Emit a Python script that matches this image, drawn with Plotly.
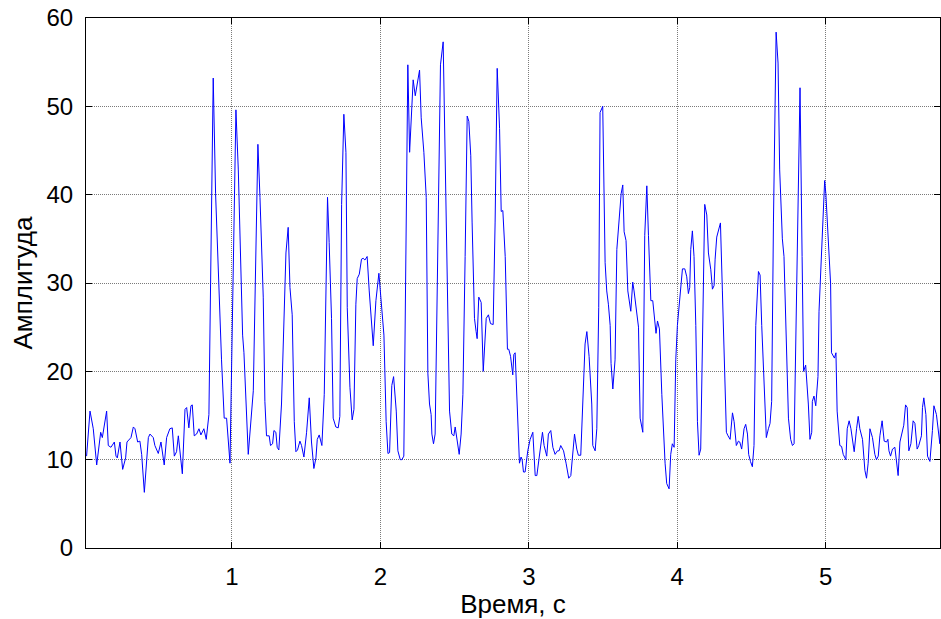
import plotly.graph_objects as go

# Time (s)
time_s = [
    0.021, 0.044, 0.066, 0.089, 0.116, 0.127, 0.156, 0.167, 0.185, 0.208, 0.219, 0.228, 0.246, 0.264,
    0.284, 0.293, 0.320, 0.336, 0.347, 0.365, 0.380, 0.392, 0.410, 0.437, 0.448, 0.470, 0.481, 0.504,
    0.522, 0.544, 0.560, 0.582, 0.598, 0.612, 0.627, 0.639, 0.666, 0.684, 0.695, 0.710, 0.724, 0.733,
    0.746, 0.762, 0.778, 0.791, 0.811, 0.827, 0.845, 0.874, 0.890, 0.912, 0.930, 0.948, 0.964, 0.987,
    1.027, 1.043, 1.072, 1.081, 1.110, 1.144, 1.175, 1.189, 1.211, 1.222, 1.233, 1.251, 1.260, 1.274,
    1.283, 1.296, 1.305, 1.316, 1.334, 1.364, 1.379, 1.391, 1.406, 1.420, 1.431, 1.442, 1.458, 1.469,
    1.485, 1.503, 1.521, 1.536, 1.552, 1.566, 1.575, 1.588, 1.606, 1.622, 1.644, 1.655, 1.671, 1.682,
    1.700, 1.716, 1.727, 1.739, 1.754, 1.768, 1.777, 1.795, 1.810, 1.822, 1.835, 1.844, 1.858, 1.873,
    1.884, 1.896, 1.911, 1.925, 1.952, 1.970, 1.990,
    2.024, 2.039, 2.051, 2.062, 2.077, 2.089, 2.107, 2.118, 2.134, 2.145, 2.158, 2.170, 2.185, 2.197,
    2.221, 2.235, 2.253, 2.264, 2.275, 2.293, 2.309, 2.320, 2.331, 2.342, 2.347, 2.358, 2.369, 2.387,
    2.405, 2.423, 2.439, 2.455, 2.466, 2.481, 2.495, 2.504, 2.515, 2.531, 2.544, 2.556, 2.571, 2.585,
    2.596, 2.609, 2.618, 2.634, 2.645, 2.652, 2.663, 2.679, 2.693, 2.713, 2.728, 2.742, 2.760, 2.773,
    2.787, 2.803, 2.814, 2.825, 2.841, 2.856, 2.865, 2.877, 2.892, 2.899, 2.908, 2.921, 2.937, 2.948,
    2.955, 2.964, 2.975, 2.993,
    3.009, 3.027, 3.043, 3.054, 3.072, 3.081, 3.092, 3.103, 3.121, 3.132, 3.148, 3.162, 3.177, 3.193,
    3.204, 3.215, 3.234, 3.251, 3.269, 3.283, 3.296, 3.308, 3.323, 3.334, 3.350, 3.364, 3.379, 3.391,
    3.406, 3.424, 3.431, 3.447, 3.458, 3.471, 3.480, 3.498, 3.514, 3.525, 3.536, 3.548, 3.554, 3.566,
    3.581, 3.593, 3.611, 3.622, 3.633, 3.642, 3.655, 3.667, 3.687, 3.700, 3.709, 3.727, 3.739, 3.750,
    3.768, 3.781, 3.795, 3.806, 3.822, 3.835, 3.846, 3.857, 3.867, 3.880, 3.896, 3.907, 3.918, 3.929,
    3.945, 3.956, 3.967, 3.979, 3.990,
    4.001, 4.017, 4.024, 4.035, 4.051, 4.064, 4.075, 4.084, 4.091, 4.102, 4.113, 4.125, 4.136, 4.147,
    4.158, 4.170, 4.185, 4.199, 4.210, 4.226, 4.237, 4.248, 4.255, 4.266, 4.277, 4.291, 4.304, 4.315,
    4.331, 4.342, 4.356, 4.372, 4.383, 4.398, 4.412, 4.421, 4.434, 4.450, 4.461, 4.473, 4.481, 4.493,
    4.506, 4.517, 4.529, 4.547, 4.558, 4.569, 4.585, 4.600, 4.614, 4.625, 4.636, 4.648, 4.666, 4.679,
    4.690, 4.708, 4.719, 4.731, 4.742, 4.749, 4.764, 4.776, 4.787, 4.798, 4.814, 4.827, 4.841, 4.851,
    4.865, 4.883, 4.894, 4.906, 4.910, 4.921, 4.933, 4.948, 4.955, 4.971, 4.983, 4.993,
    5.001, 5.017, 5.033, 5.039, 5.051, 5.059, 5.069, 5.077, 5.095, 5.107, 5.118, 5.136, 5.145, 5.158,
    5.170, 5.185, 5.192, 5.208, 5.219, 5.230, 5.248, 5.264, 5.275, 5.286, 5.298, 5.315, 5.331, 5.342,
    5.354, 5.365, 5.380, 5.394, 5.410, 5.419, 5.426, 5.437, 5.450, 5.466, 5.477, 5.488, 5.500, 5.517,
    5.526, 5.538, 5.549, 5.560, 5.574, 5.589, 5.601, 5.616, 5.627, 5.645, 5.652, 5.661, 5.675, 5.686,
    5.702, 5.719, 5.729, 5.746, 5.760, 5.769, 5.775,
]

# Amplitude
amplitude = [
    10.4, 15.5, 13.5, 9.4, 13.1, 12.5, 15.5, 11.6, 11.4, 12.0, 10.4, 10.2, 12.0, 8.9,
    10.2, 12.0, 12.5, 13.7, 13.5, 12.0, 12.1, 10.6, 6.3, 12.5, 12.9, 12.5, 11.6, 10.7,
    12.0, 9.4, 12.5, 13.5, 13.6, 10.4, 10.9, 12.7, 8.4, 15.7, 15.9, 13.6, 16.1, 16.2,
    12.7, 12.9, 13.5, 12.8, 13.5, 12.3, 15.1, 53.2, 40.1, 29.1, 21.3, 14.7, 14.7, 9.6,
    49.6, 42.8, 24.1, 22.1, 10.6, 17.8, 45.7, 39.7, 28.4, 16.6, 12.7, 12.7, 11.6, 11.8,
    13.3, 13.1, 11.4, 11.1, 16.3, 33.4, 36.3, 29.5, 26.4, 14.3, 10.9, 11.1, 12.1, 11.6,
    10.3, 13.1, 17.0, 12.0, 9.0, 10.2, 12.3, 12.8, 11.6, 17.4, 39.7, 34.6, 26.0, 14.7,
    13.7, 13.6, 14.9, 38.9, 49.1, 44.8, 27.2, 18.2, 14.5, 15.7, 27.6, 30.5, 31.0, 32.7,
    32.8, 32.6, 33.0, 29.1, 22.9, 28.0, 31.1,
    24.1, 14.3, 10.7, 10.8, 18.4, 19.4, 15.5, 11.0, 10.0, 10.0, 10.4, 33.0, 54.7, 44.8,
    53.0, 51.2, 53.0, 54.1, 48.7, 44.8, 39.7, 19.8, 16.3, 15.1, 12.9, 11.8, 12.9, 35.4,
    54.7, 57.3, 42.8, 29.1, 15.5, 12.9, 12.7, 13.7, 12.3, 10.6, 12.9, 17.4, 33.0, 48.9,
    48.3, 44.4, 36.9, 26.0, 24.5, 23.7, 28.4, 27.8, 20.0, 26.0, 26.4, 25.4, 25.3, 36.9,
    54.3, 47.5, 38.1, 38.2, 33.0, 22.5, 22.5, 21.7, 19.6, 21.9, 22.1, 15.5, 9.6, 10.3,
    10.0, 8.6, 8.6, 11.0,
    12.3, 13.1, 8.2, 8.2, 10.8, 11.6, 13.1, 11.6, 10.4, 12.9, 13.3, 11.4, 10.6, 11.0,
    11.0, 11.6, 11.0, 9.6, 7.9, 8.2, 10.6, 12.9, 11.2, 10.5, 10.5, 16.6, 23.1, 24.5,
    21.7, 16.3, 11.6, 11.0, 13.5, 27.2, 49.3, 50.0, 32.3, 29.1, 27.6, 25.2, 20.9, 18.0,
    21.3, 33.8, 37.7, 40.1, 41.1, 35.8, 34.8, 29.1, 26.8, 30.1, 29.1, 26.4, 25.0, 14.7,
    13.1, 35.4, 41.0, 35.4, 28.0, 28.0, 26.0, 24.3, 25.7, 24.8, 17.4, 12.5, 9.6, 7.3,
    6.7, 10.6, 11.8, 11.4, 21.3,
    25.2, 28.0, 30.0, 31.6, 31.6, 30.7, 28.8, 29.5, 33.8, 35.9, 33.0, 25.2, 14.3, 10.5,
    11.2, 25.2, 38.9, 37.7, 33.4, 31.5, 29.3, 29.7, 32.7, 35.2, 35.9, 36.8, 29.1, 21.3,
    13.1, 12.7, 12.3, 15.3, 14.3, 11.6, 12.1, 12.0, 11.2, 13.5, 14.0, 12.9, 10.6, 9.8,
    9.2, 11.6, 25.2, 31.3, 30.9, 25.2, 18.2, 12.5, 13.5, 14.1, 16.6, 36.9, 58.4, 54.9,
    42.8, 35.0, 33.0, 25.2, 21.3, 14.7, 12.3, 11.6, 11.8, 23.3, 40.9, 52.1, 33.0, 20.0,
    20.7, 16.3, 12.3, 13.1, 16.6, 17.2, 16.1, 19.4, 26.8, 33.0, 37.7, 41.6,
    40.1, 35.0, 29.9, 22.1, 21.7, 21.5, 22.1, 15.5, 11.6, 11.5, 10.6, 10.0, 13.5, 14.4,
    13.5, 11.2, 10.9, 13.5, 14.9, 13.5, 12.3, 8.8, 7.9, 9.6, 13.5, 12.5, 10.6, 10.0,
    10.4, 12.7, 14.4, 12.1, 12.0, 12.3, 11.0, 10.4, 11.2, 11.4, 9.4, 8.2, 12.0, 13.1,
    13.9, 16.2, 15.9, 11.0, 11.8, 14.4, 14.1, 11.2, 11.6, 12.7, 15.9, 17.0, 15.1, 10.4,
    9.8, 13.3, 16.1, 15.1, 13.3, 11.8, 14.9,
]

x_ticks = [1, 2, 3, 4, 5]
y_ticks = [0, 10, 20, 30, 40, 50, 60]
x_title = "Время, с"
y_title = "Амплитуда"

n = min(len(time_s), len(amplitude))

fig = go.Figure()
fig.add_trace(go.Scatter(
    x=time_s[:n], y=amplitude[:n], mode="lines",
    line=dict(color="#0000ff", width=1),
    hoverinfo="skip", showlegend=False,
))

FONT = "Liberation Sans, Arial, sans-serif"
axis_common = dict(
    showline=True, linecolor="black", linewidth=1, mirror="allticks",
    ticks="inside", ticklen=6, tickcolor="black", tickwidth=1,
    showgrid=True, gridcolor="#7a7a7a", gridwidth=1, griddash="1px,1px",
    zeroline=False,
    tickfont=dict(family=FONT, size=24, color="black"),
    title_font=dict(family=FONT, size=26, color="black"),
)

fig.update_xaxes(
    range=[0.017, 5.77], tickvals=x_ticks, ticktext=[str(v) for v in x_ticks],
    ticklabelstandoff=7,
    title=dict(text=x_title, standoff=3), **axis_common,
)
fig.update_yaxes(
    range=[0, 60], tickvals=y_ticks, ticktext=[str(v) for v in y_ticks],
    ticklabelstandoff=7,
    title=dict(text=y_title, standoff=6), **axis_common,
)

fig.update_layout(
    width=941, height=619,
    margin=dict(l=86, r=1, t=18, b=71, autoexpand=False),
    paper_bgcolor="white", plot_bgcolor="white",
)

fig.write_html("out.html")
